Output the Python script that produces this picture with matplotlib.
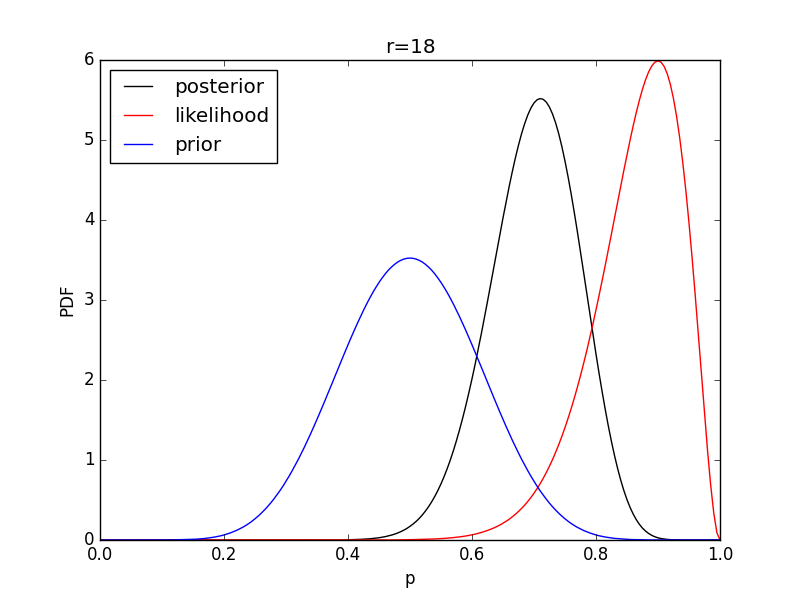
import numpy as np
import matplotlib
matplotlib.use("Agg")
import matplotlib.pyplot as plt

# success probability grid (step 0.005)
p = np.linspace(0.0, 1.0, 201)

# PDF values, one per grid point
prior = [0.0] * 20 + [
    0.000, 0.001, 0.001, 0.001, 0.002, 0.002, 0.003, 0.004, 0.005, 0.006,
    0.008, 0.010, 0.013, 0.017, 0.020, 0.025, 0.031, 0.037, 0.045, 0.053,
    0.063, 0.075, 0.088, 0.103, 0.119, 0.138, 0.158, 0.181, 0.206, 0.234,
    0.265, 0.298, 0.334, 0.373, 0.415, 0.460, 0.508, 0.560, 0.614, 0.672,
    0.734, 0.798, 0.866, 0.937, 1.010, 1.087, 1.166, 1.248, 1.333, 1.419,
    1.508, 1.598, 1.690, 1.783, 1.877, 1.971, 2.066, 2.161, 2.255, 2.348,
    2.440, 2.531, 2.620, 2.706, 2.790, 2.871, 2.949, 3.023, 3.093, 3.158,
    3.219, 3.275, 3.326, 3.372, 3.411, 3.445, 3.474, 3.495, 3.511, 3.521,
    3.524,
    3.521, 3.511, 3.495, 3.474, 3.445, 3.411, 3.372, 3.326, 3.275, 3.219,
    3.158, 3.093, 3.023, 2.949, 2.871, 2.790, 2.706, 2.620, 2.531, 2.440,
    2.348, 2.255, 2.161, 2.066, 1.971, 1.877, 1.783, 1.690, 1.598, 1.508,
    1.419, 1.333, 1.248, 1.166, 1.087, 1.010, 0.937, 0.866, 0.798, 0.734,
    0.672, 0.614, 0.560, 0.508, 0.460, 0.415, 0.373, 0.334, 0.298, 0.265,
    0.234, 0.206, 0.181, 0.158, 0.138, 0.119, 0.103, 0.088, 0.075, 0.063,
    0.053, 0.045, 0.037, 0.031, 0.025, 0.020, 0.017, 0.013, 0.010, 0.008,
    0.006, 0.005, 0.004, 0.003, 0.002, 0.002, 0.001, 0.001, 0.001, 0.000,
] + [0.0] * 20

posterior = [0.0] * 80 + [
    0.003, 0.004, 0.005, 0.006, 0.008, 0.010, 0.012, 0.015, 0.019, 0.023,
    0.028, 0.035, 0.042, 0.051, 0.061, 0.073, 0.087, 0.104, 0.123, 0.145,
    0.171, 0.200, 0.233, 0.271, 0.314, 0.363, 0.417, 0.478, 0.545, 0.620,
    0.702, 0.793, 0.892, 1.000, 1.117, 1.244, 1.380, 1.525, 1.679, 1.843,
    2.015, 2.195, 2.383, 2.577, 2.777, 2.982, 3.191, 3.401, 3.611, 3.820,
    4.026, 4.226, 4.420, 4.604, 4.777, 4.936, 5.080, 5.206, 5.313, 5.399,
    5.463, 5.503, 5.518, 5.508, 5.472, 5.410, 5.323, 5.211, 5.075, 4.916,
    4.736, 4.538, 4.323, 4.093, 3.852, 3.602, 3.347, 3.089, 2.830, 2.574,
    2.324, 2.081, 1.849, 1.628, 1.420, 1.228, 1.051, 0.890, 0.745, 0.617,
    0.504, 0.407, 0.324, 0.254, 0.196, 0.148, 0.111, 0.081, 0.058, 0.040,
    0.027, 0.018, 0.012, 0.007, 0.004, 0.002, 0.001, 0.001, 0.000, 0.000,
    0.000, 0.000,
] + [0.0] * 9

likelihood = [0.0] * 90 + [
    0.001, 0.001, 0.001, 0.001, 0.001, 0.002, 0.002, 0.002, 0.003, 0.003,
    0.004, 0.004, 0.005, 0.006, 0.007, 0.008, 0.010, 0.011, 0.013, 0.015,
    0.017, 0.020, 0.023, 0.026, 0.030, 0.034, 0.039, 0.044, 0.050, 0.057,
    0.065, 0.073, 0.083, 0.094, 0.106, 0.119, 0.134, 0.150, 0.168, 0.188,
    0.210, 0.234, 0.260, 0.290, 0.322, 0.357, 0.395, 0.437, 0.482, 0.531,
    0.585, 0.643, 0.705, 0.773, 0.846, 0.924, 1.008, 1.098, 1.194, 1.297,
    1.406, 1.522, 1.645, 1.774, 1.911, 2.055, 2.206, 2.363, 2.528, 2.698,
    2.875, 3.058, 3.245, 3.437, 3.632, 3.830, 4.030, 4.230, 4.428, 4.624,
    4.816, 5.001, 5.178, 5.345, 5.498, 5.636, 5.755, 5.853, 5.926, 5.973,
    5.989, 5.972, 5.918, 5.826, 5.693, 5.516, 5.295, 5.028, 4.716, 4.360,
    3.962, 3.527, 3.062, 2.574, 2.075, 1.581, 1.109, 0.684, 0.333, 0.091,
    0.0,
]

r = 18

plt.style.use("classic")
plt.rcParams["figure.facecolor"] = "white"
plt.rcParams["savefig.facecolor"] = "white"

fig = plt.figure(figsize=(8, 6), dpi=100)
ax = fig.add_subplot(111)

ax.plot(p, posterior, color="black", label="posterior")
ax.plot(p, likelihood, color="red", label="likelihood")
ax.plot(p, prior, color="blue", label="prior")

ax.set_xlim(0, 1)
ax.set_ylim(0, 6)
ax.set_xlabel("p")
ax.set_ylabel("PDF")
ax.set_title("r=%d" % r)
ax.legend(loc="upper left")

fig.savefig("out.png", dpi=100)
